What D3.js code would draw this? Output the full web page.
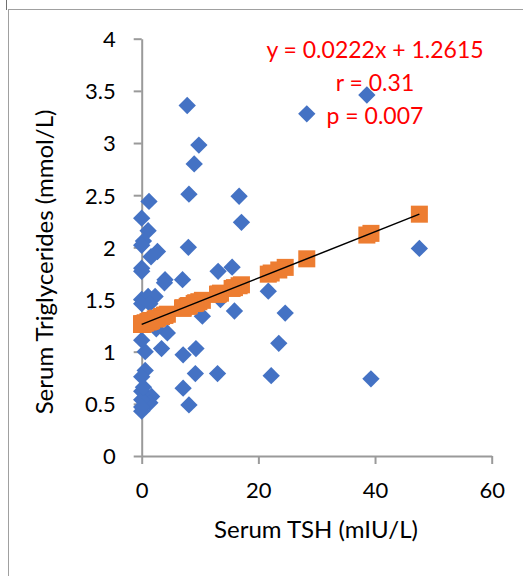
<!DOCTYPE html>
<html>
<head>
<meta charset="utf-8">
<script src="https://cdn.jsdelivr.net/npm/d3@7"></script>
<style>
  body { margin: 0; background: #fff; }
  svg { display: block; font-family: Lato, "Open Sans", sans-serif; }
</style>
</head>
<body>
<svg id="chart" width="523" height="576"></svg>
<script>
// Serum TSH (x) and serum triglycerides (y)
const tsh = [7.8, 9.8, 9.0, 8.1, 16.7, 17.1, 8.0, 1.25, 0.0, 1.1, 0.3, 0.0, 2.7, 1.6, 0.0, 0.0,
  4.0, 3.9, 7.0, 13.1, 15.5, 21.7, 15.9, 24.6, 10.4, 13.5, 0.0, 1.1, 2.3, 0.0, 1.4, 4.4,
  3.4, 7.1, 9.3, 0.6, 0.0, 0.6, 0.0, 9.2, 13.0, 7.1, 8.1, 0.0, 1.7, 1.4, 0.0, 0.0,
  0.0, 0.3, 23.5, 22.2, 39.3, 47.6, 38.6, 28.3, 1.5, 2.5];
const triglycerides = [3.36, 2.98, 2.80, 2.51, 2.49, 2.24, 2.00, 2.44, 2.28, 2.16, 2.06, 2.02, 1.96, 1.91, 1.80, 1.77,
  1.69, 1.66, 1.69, 1.77, 1.81, 1.58, 1.39, 1.37, 1.34, 1.50, 1.50, 1.53, 1.53, 1.46, 1.46, 1.18,
  1.03, 0.97, 1.03, 1.00, 1.11, 0.82, 0.76, 0.79, 0.79, 0.65, 0.49, 0.62, 0.57, 0.51, 0.54, 0.43,
  0.47, 0.66, 1.08, 0.77, 0.74, 1.99, 3.46, 3.28, 1.30, 1.22];
// predicted (orange) values, same x as above
const predicted = [1.435, 1.479, 1.461, 1.441, 1.632, 1.641, 1.439, 1.289, 1.262, 1.286, 1.268, 1.262, 1.321, 1.297, 1.262, 1.262,
  1.350, 1.348, 1.417, 1.552, 1.606, 1.743, 1.614, 1.808, 1.492, 1.561, 1.262, 1.286, 1.313, 1.262, 1.293, 1.359,
  1.337, 1.419, 1.468, 1.275, 1.262, 1.275, 1.262, 1.466, 1.550, 1.419, 1.441, 1.262, 1.299, 1.293, 1.262, 1.262,
  1.262, 1.268, 1.783, 1.754, 2.134, 2.318, 2.118, 1.890, 1.295, 1.317];

const xTicks = [0, 20, 40, 60];
const yTicks = [0, 0.5, 1, 1.5, 2, 2.5, 3, 3.5, 4];
const slope = 0.0222;
const intercept = 1.2615;
const statLines = ["y = 0.0222x + 1.2615", "r = 0.31", "p = 0.007"];

const svg = d3.select("#chart");
const axisColor = "#9a9a9a";

// outer frame
svg.append("rect")
  .attr("x", 8.5).attr("y", 9.5)
  .attr("width", 600).attr("height", 600)
  .attr("fill", "none").attr("stroke", "#a0a0a0");
svg.append("line")
  .attr("x1", 6.5).attr("x2", 6.5).attr("y1", 0).attr("y2", 10)
  .attr("stroke", "#707070");

const x = d3.scaleLinear().domain([0, 60]).range([141.7, 491.7]);
const y = d3.scaleLinear().domain([0, 4]).range([456, 38.7]);

// axes
const yAxis = svg.append("g")
  .attr("transform", `translate(${x(0)},0)`)
  .call(d3.axisLeft(y).tickValues(yTicks).tickSize(8).tickSizeOuter(0)
    .tickPadding(18).tickFormat(d3.format("")));

const xAxis = svg.append("g")
  .attr("transform", `translate(0,${y(0)})`)
  .call(d3.axisBottom(x).tickValues(xTicks).tickSize(8).tickSizeOuter(0)
    .tickPadding(18).tickFormat(d3.format("")));

[xAxis, yAxis].forEach(g => {
  g.select(".domain").attr("stroke", axisColor).attr("stroke-width", 2);
  g.selectAll(".tick line").attr("stroke", axisColor).attr("stroke-width", 2);
  g.selectAll("text").attr("fill", "#000").style("font-size", "22px")
    .style("font-family", "Lato, sans-serif");
});
yAxis.selectAll("text").attr("dy", "0.36em");
xAxis.selectAll("text").attr("dy", "0.72em");

// axis titles
svg.append("text")
  .attr("x", 316).attr("y", 538)
  .attr("text-anchor", "middle")
  .style("font-size", "24px")
  .text("Serum TSH (mIU/L)");

svg.append("text")
  .attr("transform", "translate(53,262) rotate(-90)")
  .attr("text-anchor", "middle")
  .style("font-size", "24px")
  .text("Serum Triglycerides (mmol/L)");

// blue diamonds (observed)
const diamond = d3.symbol().type(d3.symbolSquare).size(150);
svg.append("g")
  .selectAll("path")
  .data(tsh)
  .join("path")
  .attr("d", diamond)
  .attr("transform", (d, i) => `translate(${x(d)},${y(triglycerides[i])}) rotate(45)`)
  .attr("fill", "#4472C4");

// orange squares (predicted)
const square = d3.symbol().type(d3.symbolSquare).size(290);
svg.append("g")
  .selectAll("path")
  .data(tsh)
  .join("path")
  .attr("d", square)
  .attr("transform", (d, i) => `translate(${x(d)},${y(predicted[i])})`)
  .attr("fill", "#ED7D31");

// trend line
const xMax = d3.max(tsh);
svg.append("line")
  .attr("x1", x(0)).attr("y1", y(intercept))
  .attr("x2", x(xMax)).attr("y2", y(intercept + slope * xMax))
  .attr("stroke", "#000").attr("stroke-width", 1.5);

// equation label
svg.append("g")
  .selectAll("text")
  .data(statLines)
  .join("text")
  .attr("x", 375)
  .attr("y", (d, i) => 58 + i * 33)
  .attr("text-anchor", "middle")
  .attr("fill", "#FF0000")
  .style("font-size", "23px")
  .text(d => d);
</script>
</body>
</html>
